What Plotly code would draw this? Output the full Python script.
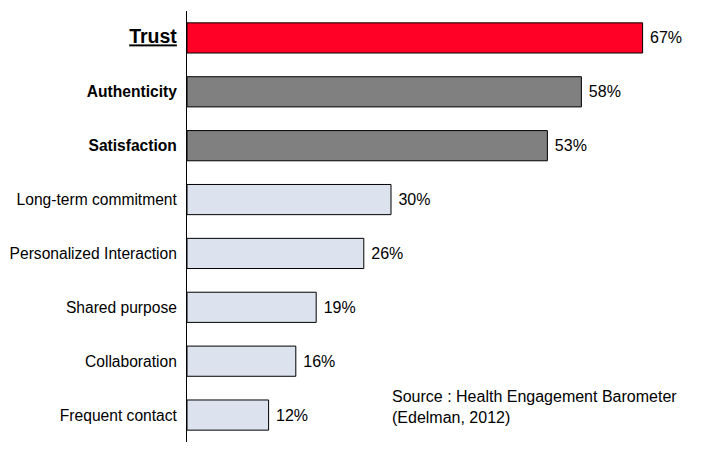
import plotly.graph_objects as go

categories = ["Trust", "Authenticity", "Satisfaction", "Long-term commitment",
              "Personalized Interaction", "Shared purpose", "Collaboration", "Frequent contact"]
values = [67, 58, 53, 30, 26, 19, 16, 12]
colors = ["#FF0027", "#808080", "#808080", "#DCE3EE", "#DCE3EE", "#DCE3EE", "#DCE3EE", "#DCE3EE"]
tick_labels = ["<b><u>Trust</u></b>", "<b>Authenticity</b>", "<b>Satisfaction</b>",
               "Long-term commitment", "Personalized Interaction", "Shared purpose",
               "Collaboration", "Frequent contact"]
tick_labels = ['<span style="font-size:19.5px">' + tick_labels[0] + '</span>'] + tick_labels[1:]

fig = go.Figure(go.Bar(
    x=values, y=categories, orientation="h",
    marker=dict(color=colors, line=dict(color="black", width=1)),
    text=[f"&nbsp;{v}%" for v in values], textposition="outside",
    textfont=dict(size=16, color="black", family="Liberation Sans"),
    cliponaxis=False,
))

fig.update_layout(
    width=719, height=455,
    margin=dict(l=187, r=22, t=11, b=13),
    plot_bgcolor="white", paper_bgcolor="white",
    font=dict(family="Liberation Sans", size=15.6, color="black"),
    bargap=0.44,
    showlegend=False,
    xaxis=dict(range=[0, 75], visible=False),
    yaxis=dict(categoryorder="array", categoryarray=categories[::-1],
               tickvals=categories, ticktext=tick_labels, automargin=False,
               showline=True, linecolor="black", linewidth=1,
               ticks="", ticklabelstandoff=6, showgrid=False),
    annotations=[dict(text="Source : Health Engagement Barometer<br>(Edelman, 2012)",
                      xref="paper", yref="paper", x=(390 - 187) / 510, y=(442 - 386) / 431,
                      xanchor="left", yanchor="top", showarrow=False, align="left",
                      font=dict(size=16, family="Liberation Sans"))],
)

fig.write_html("out.html")
